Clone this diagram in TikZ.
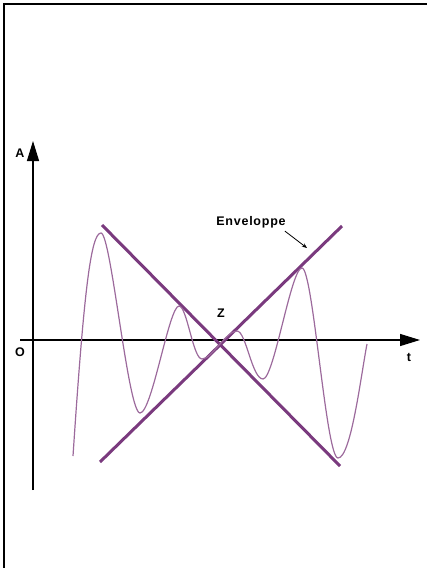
\documentclass[tikz,border=0pt]{standalone}
\usepackage{fontspec}
\setmainfont{Liberation Sans}
\newfontfamily\lblfont[LetterSpace=6]{Liberation Sans}
\usetikzlibrary{arrows.meta,positioning}
\definecolor{envcol}{HTML}{7A3A7E}
\definecolor{wavecol}{HTML}{9C6A9C}
\tikzset{
  axis/.style={line width=1.3pt, -{Triangle[length=20pt, width=12pt]}},
  env/.style={draw=envcol, line width=3pt},
  wave/.style={draw=wavecol, line width=1.2pt},
  lbl/.style={font=\lblfont\bfseries\fontsize{12.5}{14}\selectfont, inner sep=1pt},
  pointer/.style={-{Stealth[length=5pt, width=4pt]}, line width=0.8pt},
}

\begin{document}
\begin{tikzpicture}[x=1pt, y=-1pt]
  \useasboundingbox (0,0) rectangle (427,568);
  \draw[line width=2.5pt] (427,4) -- (4,4) -- (4,568);
  \coordinate (ybot) at (33,490);
  \coordinate (ytop) at (33,141);
  \coordinate (xleft) at (20,340);
  \coordinate (xright) at (420,340);
  \draw[axis] (ybot) -- (ytop);
  \draw[axis] (xleft) -- (xright);
  \node[lbl] (alab) at (20,153) {A};
  \node[lbl] (olab) at (20,352) {O};
  \node[lbl] (tlab) at (409,357) {t};
  \node[lbl] (zlab) at (221,313) {Z};
  \coordinate (d1) at (102,225);
  \coordinate (d2) at (340,466);
  \coordinate (u1) at (100,462);
  \coordinate (u2) at (342,226);
  \draw[env] (d1) -- (d2);
  \draw[env] (u1) -- (u2);
  \draw[wave] (73,456) .. controls (84,290) and (91,233) .. (101,233)
    .. controls (111,233) and (128,413) .. (140,413)
    .. controls (152,413) and (169,306) .. (179,306)
    .. controls (187,306) and (193,359) .. (202,359)
    .. controls (212,359) and (226,331) .. (237,331)
    .. controls (246,331) and (252,379) .. (263,379)
    .. controls (274,379) and (291,268) .. (302,268)
    .. controls (313,268) and (326,458) .. (338,458)
    .. controls (351,458) and (361,375) .. (367,344);
  \node[lbl] (envlab) at (251,222) {Enveloppe};
  \coordinate (envpt) at (307,248);
  \draw[pointer] (envlab.south east) ++(-2,2) -- (envpt);
\end{tikzpicture}
\end{document}
